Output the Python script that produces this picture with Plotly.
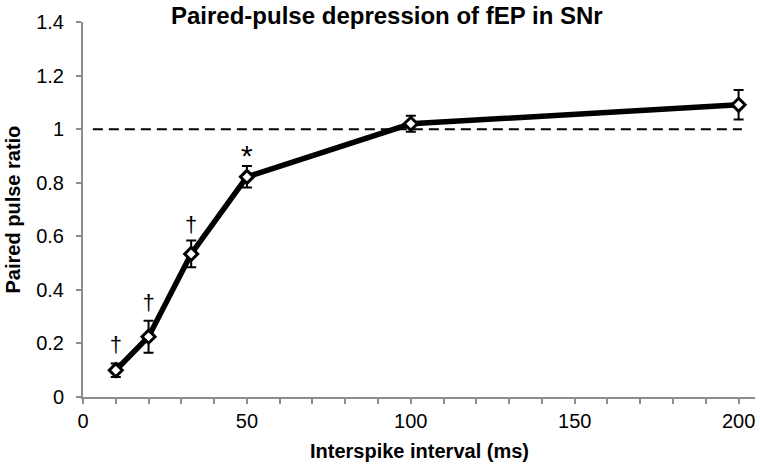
import plotly.graph_objects as go

intervals = [10, 20, 33, 50, 100, 200]
ratios = [0.10, 0.225, 0.534, 0.822, 1.02, 1.091]
sem = [0.025, 0.06, 0.05, 0.04, 0.03, 0.055]
sig_x = [10, 20, 33, 50]
sig_y = [0.19, 0.345, 0.635, 0.89]
sig_labels = ["†", "†", "†", "*"]
sig_sizes = [22, 22, 22, 30]
ref_x = [3, 201]
ref_y = [1, 1]
x_ticks = [0, 50, 100, 150, 200]
y_ticks = [0, 0.2, 0.4, 0.6, 0.8, 1, 1.2, 1.4]
y_ticklabels = ["0", "0.2", "0.4", "0.6", "0.8", "1", "1.2", "1.4"]

FONT = "Liberation Sans, Arial"

fig = go.Figure()
fig.add_trace(go.Scatter(
    x=ref_x, y=ref_y, mode="lines",
    line=dict(color="black", width=2, dash="10px,6px"),
    hoverinfo="skip", showlegend=False))
fig.add_trace(go.Scatter(
    x=intervals, y=ratios, mode="lines+markers",
    line=dict(color="black", width=5.5),
    marker=dict(symbol="diamond", size=10, color="white",
                line=dict(color="black", width=3)),
    error_y=dict(type="data", array=sem, visible=True,
                 color="black", thickness=2, width=5),
    showlegend=False))
fig.add_trace(go.Scatter(
    x=sig_x, y=sig_y, mode="text", text=sig_labels,
    textfont=dict(family=FONT, size=sig_sizes, color="black"),
    hoverinfo="skip", showlegend=False))

axis_font = dict(family=FONT, size=20, color="black")
title_font = dict(family=FONT, size=20, color="black")
grey = "#8c8c8c"

fig.update_layout(
    width=760, height=467,
    margin=dict(l=83, r=5, t=22, b=70),
    paper_bgcolor="white", plot_bgcolor="white",
    title=dict(text="<b>Paired-pulse depression of fEP in SNr</b>",
               x=0.509, xanchor="center", y=0.967, yanchor="middle",
               font=dict(family=FONT, size=24, color="black")),
    xaxis=dict(range=[0, 205], tickvals=x_ticks, showgrid=False, zeroline=False,
               automargin=False,
               showline=True, linecolor=grey, linewidth=2,
               ticks="outside", ticklen=5, tickcolor=grey, tickwidth=2,
               ticklabelstandoff=0,
               minor=dict(dtick=10, tick0=0, ticks="outside", ticklen=5,
                          tickcolor=grey, tickwidth=2, showgrid=False),
               tickfont=axis_font),
    yaxis=dict(range=[0, 1.4], tickvals=y_ticks, ticktext=y_ticklabels,
               showgrid=False, zeroline=False, automargin=False,
               showline=True, linecolor=grey, linewidth=2,
               ticks="outside", ticklen=5, tickcolor=grey, tickwidth=2,
               ticklabelstandoff=8,
               tickfont=axis_font),
    annotations=[
        dict(text="<b>Interspike interval (ms)</b>", xref="paper", yref="paper",
             x=0.5, y=0, yshift=-54, xanchor="center", yanchor="middle",
             showarrow=False, font=title_font),
        dict(text="<b>Paired pulse ratio</b>", xref="paper", yref="paper",
             x=0, y=0.5, xshift=-71, xanchor="center", yanchor="middle",
             textangle=-90, showarrow=False, font=title_font),
    ],
)

fig.write_html("out.html", config={"displayModeBar": False},
               post_script="document.body.style.margin='0';document.body.style.overflow='hidden';")
